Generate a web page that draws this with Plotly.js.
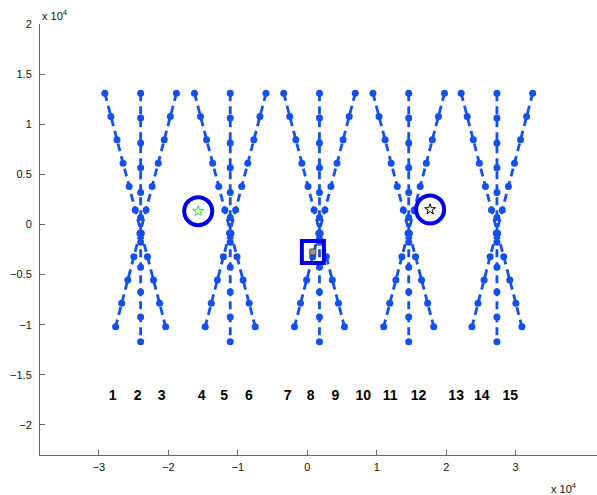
<!DOCTYPE html>
<html>
<head>
<meta charset="utf-8">
<script src="https://cdn.plot.ly/plotly-3.0.1.min.js"></script>
<style>
  html, body { margin: 0; padding: 0; background: #fff; }
  #plot { width: 597px; height: 495px; }
</style>
</head>
<body>
<div id="plot"></div>
<script>
// Array geometry: five groups of three receiver lines (x, y in metres)
const groupCenters = [-24000, -11100, 1750, 14600, 27300];

// Node heights along each line
const sideY = [13100, 10770, 8440, 6110, 3780, 1450, -880, -3210, -5540, -7870, -10200];
const midY  = [13100, 10620, 8140, 5660, 3180, 700, -1780, -4260, -6740, -9220, -11700];

// Horizontal offsets of the nodes from the group centre
const leftOffsets  = [-5150, -4280, -3400, -2530, -1650, -780, 100, 980, 1850, 2730, 3600];
const midOffsets   = [0, 0, 0, 0, 0, 0, 0, 0, 0, 0, 0];
const rightOffsets = [5150, 4280, 3400, 2530, 1650, 780, -100, -980, -1850, -2730, -3600];

// Line numbering
const labelText = ['1','2','3','4','5','6','7','8','9','10','11','12','13','14','15'];
const labelX = [-28040, -24440, -20980, -15220, -11960, -8400, -2820, 490, 4030, 8070, 11920, 16000, 21430, 25130, 29210];
const labelY = [-17200, -17200, -17200, -17200, -17200, -17200, -17200, -17200, -17200, -17200, -17200, -17200, -17200, -17200, -17200];

// Source locations and estimates
const circleX = [-15710, 17680];
const circleY = [1330, 1500];
const starGreenX = [-15710], starGreenY = [1330];
const starBlackX = [17680],  starBlackY = [1500];
const squareX = [800], squareY = [-2750];

// Axis ticks
const xTickVals = [-30000, -20000, -10000, 0, 10000, 20000, 30000];
const xTickText = ['\u22123', '\u22122', '\u22121', '0', '1', '2', '3'];
const yTickVals = [-20000, -15000, -10000, -5000, 0, 5000, 10000, 15000, 20000];
const yTickText = ['\u22122', '\u22121.5', '\u22121', '\u22120.5', '0', '0.5', '1', '1.5', '2'];

const lineBlue = '#1450f0';
const markBlue = '#0000e6';

const traces = [];
groupCenters.forEach(c => {
  [leftOffsets, midOffsets, rightOffsets].forEach((offs, i) => {
    traces.push({
      type: 'scatter',
      mode: 'lines+markers',
      x: offs.map(o => c + o),
      y: i === 1 ? midY : sideY,
      line: { color: lineBlue, width: 2.8, dash: '8px,5px' },
      marker: { color: lineBlue, size: 7, symbol: 'circle' },
      hoverinfo: 'skip'
    });
  });
});

traces.push({
  type: 'scatter', mode: 'text',
  x: labelX, y: labelY, text: labelText,
  textposition: 'middle center',
  textfont: { family: 'Liberation Sans, Arial, sans-serif', size: 14, color: '#000', weight: 'bold' },
  hoverinfo: 'skip'
});

traces.push({
  type: 'scatter', mode: 'markers',
  x: circleX, y: circleY,
  marker: { symbol: 'circle-open', size: 28, color: markBlue, line: { width: 4, color: markBlue } }
});
traces.push({
  type: 'scatter', mode: 'markers',
  x: squareX, y: squareY,
  marker: { symbol: 'square-open', size: 22, color: markBlue, line: { width: 4, color: markBlue } }
});
traces.push({
  type: 'scatter', mode: 'markers',
  x: squareX, y: squareY,
  marker: { symbol: 'square', size: 6, color: '#999', line: { width: 1, color: '#444' } }
});
traces.push({
  type: 'scatter', mode: 'markers',
  x: starGreenX, y: starGreenY,
  marker: { symbol: 'star-open', size: 8, color: '#33e033', line: { width: 1, color: '#33e033' } }
});
traces.push({
  type: 'scatter', mode: 'markers',
  x: starBlackX, y: starBlackY,
  marker: { symbol: 'star-open', size: 8, color: '#000', line: { width: 1, color: '#000' } }
});

const axisFont = { family: 'Liberation Sans, Arial, sans-serif', size: 11, color: '#111' };

const layout = {
  width: 597, height: 495,
  margin: { l: 40, r: 0, t: 24, b: 40, pad: 0 },
  paper_bgcolor: '#fff', plot_bgcolor: '#fff',
  showlegend: false,
  xaxis: {
    range: [-38490, 41710],
    showgrid: false, zeroline: false,
    showline: true, linecolor: '#666', linewidth: 1,
    ticks: 'inside', ticklen: 5, tickcolor: '#666',
    tickvals: xTickVals, ticktext: xTickText,
    tickfont: axisFont, ticklabelstandoff: 2
  },
  yaxis: {
    range: [-23000, 20000],
    showgrid: false, zeroline: false,
    showline: true, linecolor: '#666', linewidth: 1,
    ticks: 'inside', ticklen: 5, tickcolor: '#666',
    tickvals: yTickVals, ticktext: yTickText,
    tickfont: axisFont, ticklabelstandoff: 5
  },
  annotations: [
    {
      xref: 'paper', yref: 'paper', x: 0, y: 1.021,
      xanchor: 'left', yanchor: 'middle', showarrow: false,
      text: 'x 10<sup>4</sup>', font: axisFont
    },
    {
      xref: 'paper', yref: 'paper', x: 0.968, y: -0.0766,
      xanchor: 'right', yanchor: 'middle', showarrow: false,
      text: 'x 10<sup>4</sup>', font: axisFont
    }
  ]
};

Plotly.newPlot('plot', traces, layout, { staticPlot: true, displayModeBar: false });
</script>
</body>
</html>
